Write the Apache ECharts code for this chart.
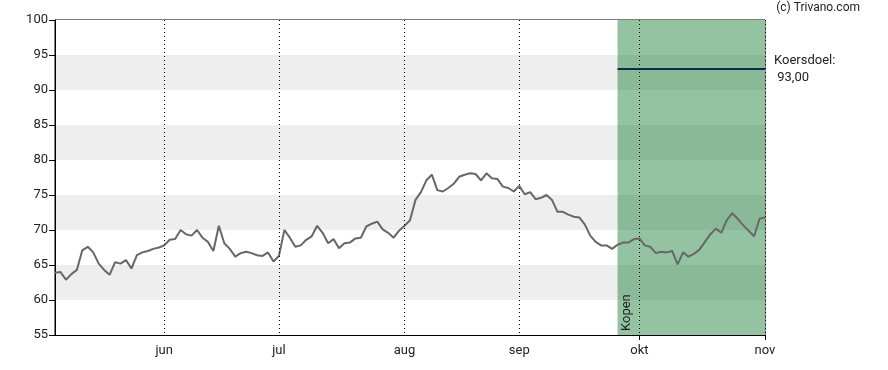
<!DOCTYPE html>
<html>
<head>
<meta charset="utf-8">
<script src="https://cdn.jsdelivr.net/npm/echarts@6/dist/echarts.min.js"></script>
<style>
html,body{margin:0;padding:0;background:#fff;}
#chart{width:888px;height:370px;}
</style>
</head>
<body>
<div id="chart"></div>
<script>
// Trading days (weekdays) 5 May 2025 – 3 Nov 2025
var dates = [
 '2025-05-05','2025-05-06','2025-05-07','2025-05-08','2025-05-09',
 '2025-05-12','2025-05-13','2025-05-14','2025-05-15','2025-05-16',
 '2025-05-19','2025-05-20','2025-05-21','2025-05-22','2025-05-23',
 '2025-05-26','2025-05-27','2025-05-28','2025-05-29','2025-05-30',
 '2025-06-02','2025-06-03','2025-06-04','2025-06-05','2025-06-06',
 '2025-06-09','2025-06-10','2025-06-11','2025-06-12','2025-06-13',
 '2025-06-16','2025-06-17','2025-06-18','2025-06-19','2025-06-20',
 '2025-06-23','2025-06-24','2025-06-25','2025-06-26','2025-06-27',
 '2025-06-30',
 '2025-07-01','2025-07-02','2025-07-03','2025-07-04',
 '2025-07-07','2025-07-08','2025-07-09','2025-07-10','2025-07-11',
 '2025-07-14','2025-07-15','2025-07-16','2025-07-17','2025-07-18',
 '2025-07-21','2025-07-22','2025-07-23','2025-07-24','2025-07-25',
 '2025-07-28','2025-07-29','2025-07-30','2025-07-31',
 '2025-08-01',
 '2025-08-04','2025-08-05','2025-08-06','2025-08-07','2025-08-08',
 '2025-08-11','2025-08-12','2025-08-13','2025-08-14','2025-08-15',
 '2025-08-18','2025-08-19','2025-08-20','2025-08-21','2025-08-22',
 '2025-08-25','2025-08-26','2025-08-27','2025-08-28','2025-08-29',
 '2025-09-01','2025-09-02','2025-09-03','2025-09-04','2025-09-05',
 '2025-09-08','2025-09-09','2025-09-10','2025-09-11','2025-09-12',
 '2025-09-15','2025-09-16','2025-09-17','2025-09-18','2025-09-19',
 '2025-09-22','2025-09-23','2025-09-24','2025-09-25','2025-09-26',
 '2025-09-29','2025-09-30',
 '2025-10-01','2025-10-02','2025-10-03',
 '2025-10-06','2025-10-07','2025-10-08','2025-10-09','2025-10-10',
 '2025-10-13','2025-10-14','2025-10-15','2025-10-16','2025-10-17',
 '2025-10-20','2025-10-21','2025-10-22','2025-10-23','2025-10-24',
 '2025-10-27','2025-10-28','2025-10-29','2025-10-30','2025-10-31',
 '2025-11-03'
];

var prices = [
 63.9,64.0,62.9,63.7,64.3, 67.1,67.6,66.8,65.2,64.3,
 63.6,65.4,65.2,65.7,64.5, 66.4,66.8,67.0,67.3,67.5,
 67.8,68.6,68.7,70.0,69.4, 69.2,70.0,68.9,68.3,67.0,
 70.6,68.1,67.3,66.2,66.7, 66.9,66.7,66.4,66.3,66.8,
 65.5,
 66.3,70.0,68.9,67.6,
 67.8,68.6,69.1,70.6,69.6, 68.1,68.7,67.4,68.1,68.2,
 68.8,68.9,70.5,70.9,71.2, 70.1,69.6,68.9,69.9,
 70.6,
 71.4,74.3,75.4,77.1,77.9, 75.7,75.5,76.0,76.6,77.6,
 77.9,78.1,78.0,77.1,78.1, 77.4,77.3,76.2,76.0,75.5,
 76.3,75.1,75.4,74.4,74.6, 75.0,74.3,72.6,72.6,72.2,
 71.9,71.8,70.8,69.2,68.3, 67.8,67.8,67.3,67.9,68.2,
 68.2,68.7,
 68.8,67.8,67.6,
 66.7,66.9,66.8,67.0,65.1, 66.8,66.2,66.6,67.2,68.3,
 69.4,70.2,69.6,71.4,72.4, 71.6,70.7,69.9,69.1,71.6,
 71.8
];

var monthNames = ['jan','feb','mrt','apr','mei','jun','jul','aug','sep','okt','nov','dec'];
var yTicks = [55,60,65,70,75,80,85,90,95,100];
var buyIndex = 103;          // start of "Kopen" zone
var buyLabel = 'Kopen';
var targetPrice = 93;
var targetLabel = 'Koersdoel:\n 93,00';
var copyright = '(c) Trivano.com';

function isMonthStart(i){
  if (i === 0) return false;
  return dates[i].slice(5,7) !== dates[i-1].slice(5,7);
}
function isFutureMonthStart(i){
  return isMonthStart(i) && i >= buyIndex;
}

var FONT = 'Roboto';
var chart = echarts.init(document.getElementById('chart'), null, {renderer:'canvas'});

var option = {
  animation: false,
  backgroundColor: '#fff',
  textStyle: {fontFamily: FONT},
  grid: {left: 55, right: 123, top: 20, bottom: 35, show: true, borderColor: '#000', borderWidth: 1, backgroundColor: 'transparent'},
  xAxis: {
    type: 'category',
    data: dates,
    boundaryGap: false,
    z: 3,
    axisLine: {show: true, lineStyle: {color: '#000', width: 1}},
    axisTick: {show: true, length: 5, lineStyle: {color: '#000'}, interval: function(i){ return isFutureMonthStart(i) || i === dates.length - 1; }},
    axisLabel: {
      interval: function(i){ return isMonthStart(i); },
      formatter: function(v){ return monthNames[parseInt(v.slice(5,7),10)-1]; },
      color: '#222', fontSize: 13, fontFamily: FONT, margin: 9, hideOverlap: false
    },
    splitLine: {show: true, interval: function(i){ return isMonthStart(i); }, lineStyle: {color: '#000', type: [1,3], width: 1}}
  },
  yAxis: {
    type: 'value',
    min: 55, max: 100, interval: 5,
    axisLine: {show: true, lineStyle: {color: '#000', width: 1}},
    axisTick: {show: true, length: 6, lineStyle: {color: '#000'}},
    axisLabel: {color: '#222', fontSize: 13, fontFamily: FONT, margin: 7,
      formatter: function(v){ return yTicks.indexOf(v) >= 0 ? String(v) : ''; }},
    splitLine: {show: false},
    splitArea: {show: true, areaStyle: {color: ['#ffffff', '#eeeeee']}}
  },
  series: [{
    type: 'line',
    data: prices,
    showSymbol: false,
    symbol: 'none',
    lineStyle: {color: '#676767', width: 2},
    z: 2,
    markArea: {
      silent: true,
      itemStyle: {color: 'rgba(0,111,30,0.42)'},
      data: [[{xAxis: dates[buyIndex]}, {xAxis: dates[dates.length-1]}]]
    },
    markLine: {
      silent: true,
      symbol: ['none','none'],
      lineStyle: {color: '#0b2b4b', width: 2, type: 'solid'},
      label: {show: true, position: 'end', formatter: targetLabel, color: '#222', fontSize: 13, fontFamily: FONT, lineHeight: 17, distance: 9, align: 'left'},
      data: [[{coord: [dates[buyIndex], targetPrice]}, {coord: [dates[dates.length-1], targetPrice]}]]
    }
  }]
};
chart.setOption(option);

var p = chart.convertToPixel({gridIndex: 0}, [dates[buyIndex], 55]);
chart.setOption({
  graphic: [
    {type: 'text', x: p[0] + 3, y: p[1] - 4, rotation: Math.PI/2, z: 10,
     style: {text: buyLabel, fill: '#222', font: '13px ' + FONT, align: 'left', verticalAlign: 'top'}},
    {type: 'text', right: 28, top: 2, z: 10,
     style: {text: copyright, fill: '#222', font: '12px ' + FONT}}
  ]
});
</script>
</body>
</html>
